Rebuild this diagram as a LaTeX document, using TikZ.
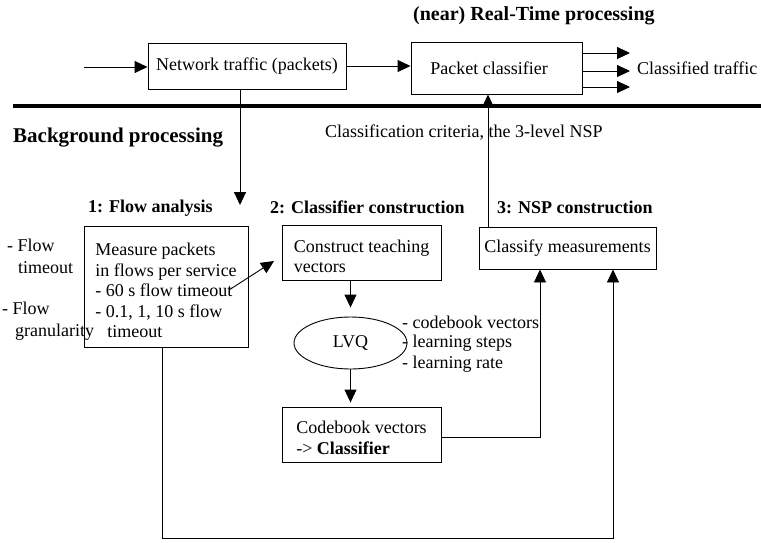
\documentclass[tikz,border=0pt]{standalone}
\usepackage{fontspec}
\setmainfont{Liberation Serif}
\usetikzlibrary{arrows.meta,shapes.geometric,calc}
\begin{document}
\begin{tikzpicture}[x=1pt,y=-1pt,
  txt/.style={font=\fontsize{18}{20.5}\selectfont, inner sep=0pt},
  head/.style={font=\fontsize{18}{20.5}\selectfont\bfseries, inner sep=0pt, anchor=west},
  big/.style={font=\fontsize{21}{24}\selectfont\bfseries, inner sep=0pt, anchor=west},
  box/.style={draw, line width=0.9pt, font=\fontsize{18}{20.5}\selectfont, align=left, inner sep=6pt},
  arr/.style={line width=0.9pt, -{Triangle[length=13pt,width=12pt]}},
  ln/.style={line width=0.9pt}]
\useasboundingbox (0,0) rectangle (761,542);

% top row
\node[big, font=\fontsize{20}{24}\selectfont\bfseries] (title) at (413,16) {(near) Real-Time processing};
\node[box, minimum width=198pt, minimum height=46pt] (net) at (247,66) {Network traffic (packets)};
\node[box, minimum width=171pt, minimum height=52pt] (pc) at (496.5,68) {Packet classifier\hspace*{15pt}};
\node[txt, anchor=west] (ct) at (637,68) {Classified traffic};
\coordinate (inp) at (84,67);
\draw[arr] (inp) -- (inp -| net.west);
\draw[arr] (net.east) -- (net.east -| pc.west);
\coordinate (o1) at (630,53);
\coordinate (o2) at (630,71);
\coordinate (o3) at (630,87);
\draw[arr] (o1 -| pc.east) -- (o1);
\draw[arr] (o2 -| pc.east) -- (o2);
\draw[arr] (o3 -| pc.east) -- (o3);

% separator
\coordinate (sl) at (13,106);
\coordinate (sr) at (761,106);
\draw[line width=3.5pt] (sl) -- (sr);

\node[big] (bg) at (13,138) {Background processing};
\node[txt, anchor=west] (crit) at (325,133) {Classification criteria, the 3-level NSP};

% headers
\node[head] (h1) at (88,208) {1: Flow analysis};
\node[head] (h2) at (270,207) {2: Classifier construction};
\node[head] (h3) at (497,207) {3: NSP construction};

% flow analysis
\node[box, minimum width=164pt, minimum height=121pt] (flow) at (166,286.5)
  {\rule{0pt}{20.5pt}Measure packets\\in flows per service\\- 60 s flow timeout\\- 0.1, 1, 10 s flow\\\hspace*{12pt}timeout};
\node[txt, anchor=west, align=left] (lf1) at (7,256) {- Flow\\[1.5pt]\hspace*{11pt}timeout};
\node[txt, anchor=west, align=left] (lf2) at (2,321) {- Flow\\[1.5pt]\hspace*{13pt}granularity};

% classifier construction
\node[box, minimum width=159pt, minimum height=55pt] (cons) at (361.5,252.5) {\rule{0pt}{20.5pt}Construct teaching\\vectors};
\node[draw, ellipse, line width=0.9pt, minimum width=113pt, minimum height=52pt, inner sep=0pt, txt] (lvq) at (350.5,343) {LVQ};
\node[txt, anchor=west] (l1) at (402,322) {- codebook vectors};
\node[txt, anchor=west] (l2) at (402,343) {- learning steps};
\node[txt, anchor=west] (l3) at (402,364) {- learning rate};
\node[box, minimum width=159pt, minimum height=55pt] (cb) at (361.5,434.5) {\rule{0pt}{19.5pt}Codebook vectors\\-> \textbf{Classifier}};

% NSP construction
\node[box, inner xsep=3pt, minimum width=177pt, minimum height=42pt] (cl) at (567.5,248) {Classify measurements};

% connectors
\coordinate (fatip) at (240,205);
\draw[arr] (fatip |- net.south) -- (fatip);
\coordinate (fs) at (229,290);
\coordinate (ctp) at (274,261);
\draw[arr] (fs) -- (ctp);
\draw[arr] (cons.south -| lvq.north) -- ([yshift=9pt]lvq.north);
\draw[arr, shorten >=4pt] (lvq.south) -- (lvq.south |- cb.north);
\draw[arr] ([yshift=-2.5pt]cb.east) -| ([xshift=-27.5pt]cl.south);
\draw[arr] ([xshift=-4pt]flow.south) -- ++(0,191) -| ([xshift=45.5pt]cl.south);
\coordinate (up) at ([xshift=-79.5pt]cl.north);
\draw[arr] (up) -- (up |- pc.south);
\end{tikzpicture}
\end{document}
